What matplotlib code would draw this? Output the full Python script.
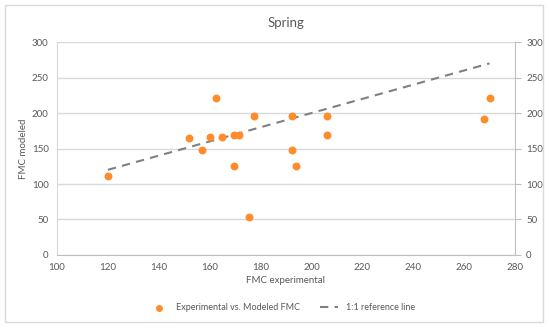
import matplotlib.pyplot as plt
from matplotlib.patches import Rectangle

plt.rcParams['font.family'] = ['Lato', 'DejaVu Sans']

fmc_exp = [120, 152, 157, 160, 165, 169.5, 171.5, 169.5, 175.5, 177.5,
           162.5, 192.5, 206, 206, 192.5, 194, 268, 270]
fmc_mod = [112, 165, 148, 166, 166, 169, 169, 126, 53, 196,
           221, 196, 196, 169, 148, 126, 191, 221]
ref_x = [120, 270]
ref_y = [120, 270]
x_ticks = [100, 120, 140, 160, 180, 200, 220, 240, 260, 280]
y_ticks = [0, 50, 100, 150, 200, 250, 300]

txt = '#595959'
grid = '#d9d9d9'
fs = 7

fig = plt.figure(figsize=(5.5, 3.29), dpi=100)
fig.patches.append(Rectangle((0.009, 0.02), 0.978, 0.965, transform=fig.transFigure,
                             fill=False, edgecolor='#d9d9d9', linewidth=1))
ax = fig.add_axes([0.1036, 0.225, 0.8327, 0.647])

ax.scatter(fmc_exp, fmc_mod, s=22, color='#ff8c2a', zorder=3,
           label='Experimental vs. Modeled FMC')
ax.plot(ref_x, ref_y, color='#808080', linestyle=(0, (4, 3)), linewidth=1.5,
        label='1:1 reference line', zorder=2)

ax.set_xlim(100, 280)
ax.set_ylim(0, 300)
ax.set_xticks(x_ticks)
ax.set_yticks(y_ticks)
ax.yaxis.grid(True, color=grid, linewidth=1)
ax.set_axisbelow(True)
ax.tick_params(axis='both', labelsize=fs, colors=txt, length=0, pad=6)

ax.spines['top'].set_visible(False)
ax.spines['left'].set_color(grid)
ax.spines['bottom'].set_color('#bfbfbf')
ax.spines['right'].set_visible(False)

ax2 = ax.twinx()
ax2.set_ylim(0, 300)
ax2.set_yticks(y_ticks)
ax2.tick_params(axis='y', labelsize=fs, colors=txt, length=4, pad=4, color='#bfbfbf')
for s in ['top', 'left', 'bottom']:
    ax2.spines[s].set_visible(False)
ax2.spines['right'].set_color('#bfbfbf')

ax.set_title('Spring', fontsize=9.5, color=txt, pad=11)
ax.set_xlabel('FMC experimental', fontsize=fs, color=txt, labelpad=3)
ax.set_ylabel('FMC modeled', fontsize=fs, color=txt, labelpad=3)

fig.legend(loc='center', bbox_to_anchor=(0.513, 0.065), ncol=2, frameon=False,
           fontsize=6.5, labelcolor=txt, handlelength=2.0, handletextpad=0.9,
           columnspacing=2.2, markerscale=0.85)

fig.savefig('out.png', dpi=100)
